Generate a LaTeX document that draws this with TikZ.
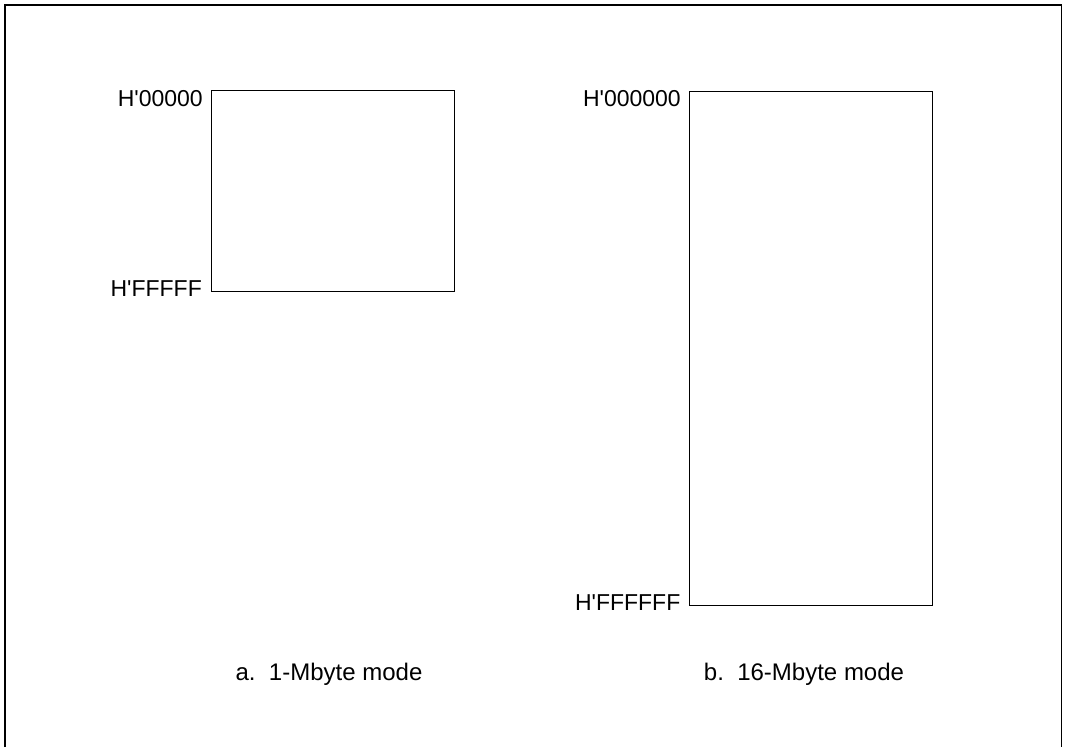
\documentclass[tikz,border=0pt]{standalone}
\usepackage{fontspec}
\setmainfont{Liberation Sans}
\usetikzlibrary{positioning}

\begin{document}
\begin{tikzpicture}[x=1pt, y=-1pt,
    membox/.style={rectangle, draw, line width=1pt, minimum width=243pt, inner sep=0pt},
    addr/.style={inner sep=0pt, font=\fontsize{23}{27}\selectfont},
    caption/.style={inner sep=0pt, font=\fontsize{24}{28}\selectfont}]
    \useasboundingbox (0,0) rectangle (1067,747);
    % Frame
    \draw[line width=1.6pt] (5,747) -- (5,5) -- (1061.5,5) -- (1061.5,747);
    % Memory maps
    \node[membox, minimum height=201pt](mapA) at (332.5,191){};
    \node[membox, minimum height=514pt](mapB) at (810.5,348){};
    \node[addr, left=7.5pt of mapA.north west, anchor=north east](topA){H\textquotesingle 00000};
    \node[addr, anchor=base east, xshift=-8.5pt, yshift=-4.5pt] (botA) at (mapA.south west){H\textquotesingle FFFFF};
    \node[addr, left=7.5pt of mapB.north west, anchor=north east](topB){H\textquotesingle 000000};
    \node[addr, anchor=base east, xshift=-8pt, yshift=-4.5pt] (botB) at (mapB.south west){H\textquotesingle FFFFFF};
    % Captions
    \node[caption, anchor=base](capA) at (329,680){a.\ \ 1-Mbyte mode};
    \node[caption, anchor=base](capB) at (804,680){b.\ \ 16-Mbyte mode};
\end{tikzpicture}
\end{document}
